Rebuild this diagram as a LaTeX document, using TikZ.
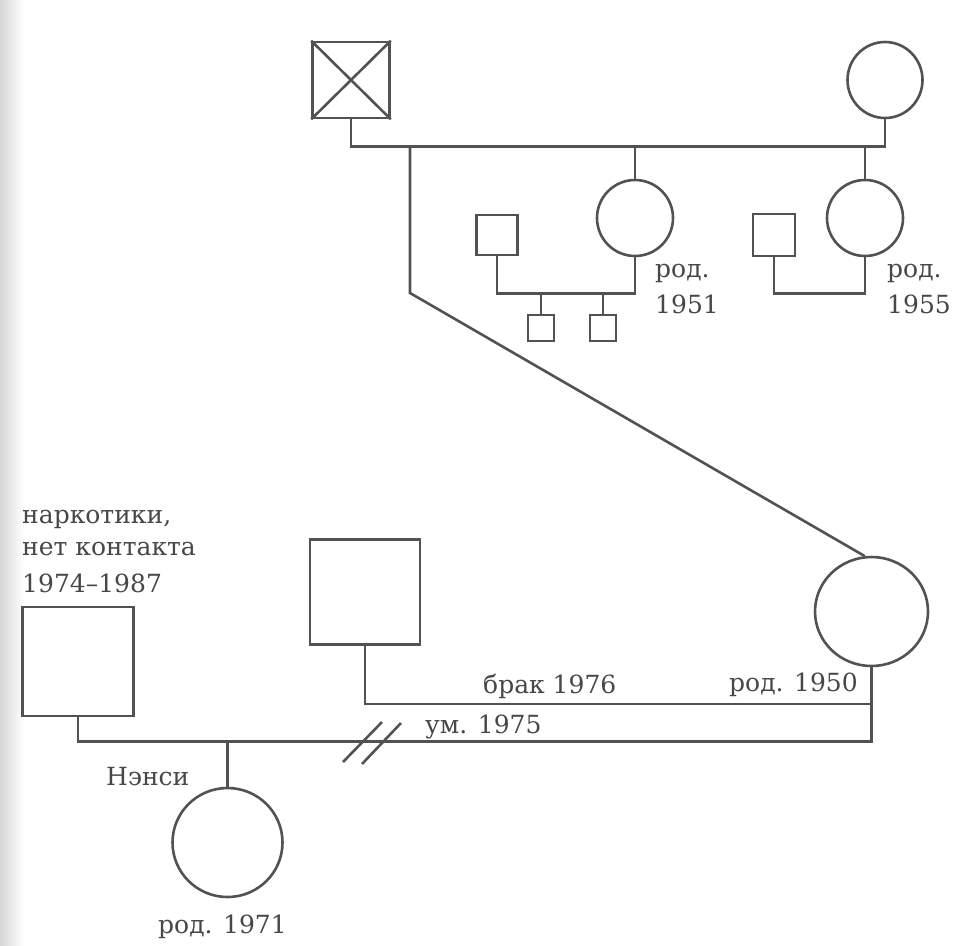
\documentclass[tikz,border=0pt]{standalone}
\usepackage{fontspec}
\setmainfont{DejaVu Serif}
\usetikzlibrary{shapes.geometric}
\begin{document}
\begin{tikzpicture}[x=1pt,y=-1pt,
  ln/.style={line width=2.6pt, draw=black!68},
  sq/.style={ln, rectangle, inner sep=0pt},
  fem/.style={ln, ellipse, inner sep=0pt},
  lbl/.style={font=\fontsize{25}{30}\selectfont, text=black!72, inner sep=0pt, anchor=base west},
]
\useasboundingbox (0,0) rectangle (955,945);
\shade[left color=black!16, right color=white] (0,0) rectangle (24,945);

% grandparents
\node[sq, minimum width=77pt, minimum height=76pt] (gf) at (351,80) {};
\draw[ln] (gf.north west) -- (gf.south east) (gf.north east) -- (gf.south west);
\node[fem, minimum width=75pt, minimum height=76pt] (gm) at (885,80) {};
\draw[ln] (gf.south) -- ++(0,27) coordinate (sib) -| (gm.south);

% aunts and their families
\node[fem, minimum width=76pt, minimum height=76pt] (a1) at (635,218) {};
\node[fem, minimum width=76pt, minimum height=76pt] (a2) at (865,218) {};
\draw[ln] (a1.north) -- (a1.north |- sib);
\draw[ln] (a2.north) -- (a2.north |- sib);

\node[sq, minimum width=41pt, minimum height=40pt] (h1) at (497,235) {};
\node[sq, minimum width=42pt, minimum height=42pt] (h2) at (774,235) {};
\draw[ln] (h1.south) -- ++(0,37) coordinate (c1) -| (a1.south);
\draw[ln] (h2.south) -- ++(0,36) -| (a2.south);

\node[sq, minimum width=26pt, minimum height=26pt] (k1) at (541,328) {};
\node[sq, minimum width=26pt, minimum height=26pt] (k2) at (603,328) {};
\draw[ln] (k1.north) -- (k1.north |- c1);
\draw[ln] (k2.north) -- (k2.north |- c1);

\node[lbl] (l51a) at (655,277) {род.};
\node[lbl] (l51b) at (655,313) {1951};
\node[lbl] (l55a) at (887,277) {род.};
\node[lbl] (l55b) at (887,313) {1955};

% mother
\node[fem, minimum width=113pt, minimum height=109pt] (m) at (871.5,611.5) {};
\coordinate (bend) at (410,293);
\draw[ln] (bend |- sib) -- (bend) -- (m.97);

% husbands
\node[sq, minimum width=110pt, minimum height=105pt] (s) at (365,592) {};
\node[sq, minimum width=111pt, minimum height=109pt] (f) at (78,661.5) {};
\draw[ln] (f.south) -- ++(0,24) coordinate (mar1) -| (m.south);
\draw[ln] (s.south) -- ++(0,58) -| (m.south);

% divorce marks
\draw[ln] (343,762) -- (382,722);
\draw[ln] (362,764) -- (401,723);

% daughter
\node[fem, minimum width=110pt, minimum height=109pt] (d) at (227.5,842.5) {};
\draw[ln] (d.north) -- (d.north |- mar1);

% labels
\node[lbl] (n1) at (22,523) {наркотики,};
\node[lbl] (n2) at (22,555) {нет контакта};
\node[lbl] (n3) at (22,592) {1974–1987};
\node[lbl] (br) at (483,693) {брак 1976};
\node[lbl] (r50) at (729,691) {род. 1950};
\node[lbl] (um) at (425,733) {ум. 1975};
\node[lbl] (nancy) at (106,785) {Нэнси};
\node[lbl] (r71) at (158,933) {род. 1971};
\end{tikzpicture}
\end{document}
